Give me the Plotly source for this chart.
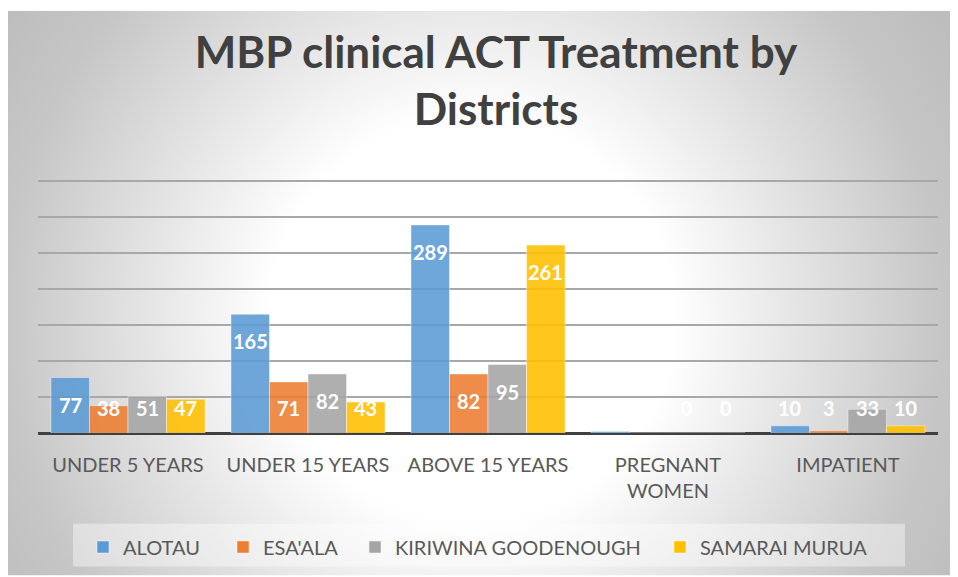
import base64
import plotly.graph_objects as go

categories = ["UNDER 5 YEARS", "UNDER 15 YEARS", "ABOVE 15 YEARS", "PREGNANT<br>WOMEN", "IMPATIENT"]
series_names = ["ALOTAU", "ESA'ALA", "KIRIWINA GOODENOUGH", "SAMARAI MURUA"]
alotau = [77, 165, 289, 2, 10]
esaala = [38, 71, 82, 0, 3]
kiriwina = [51, 82, 95, 0, 33]
samarai = [47, 43, 261, 0, 10]
series_values = [alotau, esaala, kiriwina, samarai]
colors = ["#5B9BD5", "#ED7D31", "#A5A5A5", "#FFC000"]

# the page body adds an 8px margin; figure is sized to fill the rest of the window
W, H = 950, 569
L, R, T, B = 30, 20, 170, 143
pw, ph = W - L - R, H - T - B
OFF = 8
YMAX = ph * 350 / 253.0

def px_x(X):  # page pixel -> paper x
    return (X - OFF - L) / pw

def px_y(Y):  # page pixel -> paper y
    return (H - B - (Y - OFF)) / ph

svg = (
    "<svg xmlns='http://www.w3.org/2000/svg' width='950' height='567' viewBox='0 0 950 567' preserveAspectRatio='none'>"
    "<defs><radialGradient id='g' gradientUnits='userSpaceOnUse' cx='464' cy='310' r='560'>"
    "<stop offset='0' stop-color='#ffffff'/>"
    "<stop offset='0.36' stop-color='#ffffff'/>"
    "<stop offset='0.84' stop-color='#c6c6c6'/>"
    "<stop offset='1' stop-color='#bdbdbd'/>"
    "</radialGradient></defs>"
    "<rect width='950' height='567' fill='url(#g)'/></svg>"
)
bg_uri = "data:image/svg+xml;base64," + base64.b64encode(svg.encode()).decode()

text_starts = [125, 265, 397, 702]  # page x where each legend label begins

x_idx = list(range(len(categories)))
bw = 0.214
fig = go.Figure()
annotations = []
legends = {}
for k, (name, vals, col) in enumerate(zip(series_names, series_values, colors)):
    off = -2 * bw + k * bw
    lg = "legend" if k == 0 else "legend%d" % (k + 1)
    fig.add_trace(go.Bar(
        x=x_idx, y=vals, name=name, width=bw, offset=off, legend=lg, showlegend=True,
        marker=dict(color=col, opacity=0.88, line=dict(color="rgba(255,255,255,0.45)", width=1)),
        hoverinfo="x+y+name",
    ))
    legends[lg] = dict(
        orientation="h", x=px_x(text_starts[k] - 42), xanchor="left",
        y=px_y(547), yanchor="middle", bgcolor="rgba(0,0,0,0)",
        font=dict(family="Lato", size=20, color="#595959"), itemwidth=30,
    )
    for i, v in zip(x_idx, vals):
        annotations.append(dict(
            x=i + off + bw / 2, y=max(v, 72), xref="x", yref="y",
            text="<b>%d</b>" % v, showarrow=False, yanchor="middle", yshift=-27,
            font=dict(family="Lato", size=20, color="white"),
        ))

fig.update_layout(
    width=W, height=H,
    margin=dict(l=L, r=R, t=T, b=B),
    paper_bgcolor="white", plot_bgcolor="rgba(0,0,0,0)",
    barmode="overlay", showlegend=True,
    title=dict(
        text="<b>MBP clinical ACT Treatment by<br>Districts</b>",
        x=(496 - OFF) / W, xanchor="center", xref="container",
        y=1 - 60 / H, yanchor="top", yref="container",
        font=dict(family="Lato", size=44, color="#404040"),
    ),
    xaxis=dict(
        tickmode="array", tickvals=x_idx, ticktext=categories,
        range=[-0.5, len(categories) - 0.5], showgrid=False, zeroline=False,
        showline=False, ticks="", ticklabelstandoff=18,
        tickfont=dict(family="Lato", size=20, color="#595959"),
    ),
    yaxis=dict(
        range=[0, YMAX], tick0=0, dtick=50, showgrid=True, gridcolor="#a8a8a8", gridwidth=1.5,
        zeroline=True, zerolinecolor="#404040", zerolinewidth=3,
        showticklabels=False, showline=False, ticks="",
    ),
    images=[dict(
        source=bg_uri, xref="paper", yref="paper",
        x=px_x(8), y=px_y(10), sizex=950 / pw, sizey=567 / ph,
        xanchor="left", yanchor="top", sizing="stretch", layer="below",
    )],
    shapes=[dict(
        type="rect", xref="paper", yref="paper",
        x0=px_x(73), x1=px_x(905), y0=px_y(568), y1=px_y(525),
        fillcolor="rgba(255,255,255,0.4)", line=dict(width=0), layer="below",
    )],
    annotations=annotations,
    **legends,
)

fig.write_html("out.html")
